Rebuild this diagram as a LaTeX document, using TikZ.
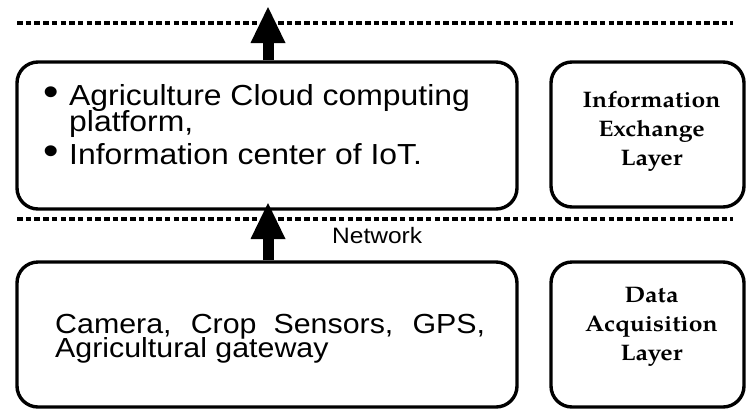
\documentclass[tikz,border=0pt]{standalone}
\usepackage{fontspec}
\setmainfont{Liberation Sans}
\newfontfamily\bodyfont{Liberation Sans}[FakeStretch=1.1]
\newfontfamily\layerfont{texgyrepagella-bold.otf}[FakeStretch=1.1]
\usetikzlibrary{arrows.meta}

\tikzset{
  box/.style={draw=black, line width=3.4pt, rounded corners=21pt,
    inner sep=0pt, minimum height=145pt},
  sepline/.style={line width=3.5pt, dash pattern=on 5.5pt off 3.2pt},
  flow/.style={line width=11pt,
    -{Triangle[width=35pt,length=36pt,line width=0pt]}},
  itemtext/.style={inner sep=0pt, anchor=base west,
    font={\bodyfont\fontsize{29}{26}\selectfont}},
  bullet/.style={inner sep=0pt, anchor=center,
    font={\bodyfont\fontsize{40}{40}\selectfont}},
  devtext/.style={inner sep=0pt, anchor=base west,
    font={\bodyfont\fontsize{27.6}{24}\selectfont}},
  nettext/.style={inner sep=0pt, anchor=base west,
    font={\bodyfont\fontsize{22.3}{26}\selectfont}},
  layertext/.style={inner sep=0pt, align=center,
    font={\layerfont\fontsize{22.5}{29}\selectfont}}
}

\begin{document}
\begin{tikzpicture}[x=1pt, y=-1pt]
  \useasboundingbox (0,0) rectangle (746,413);

  % layer separators
  \draw[sepline] (17,23) -- (733,23);
  \draw[sepline] (17,219) -- (733,219);

  % boxes
  \node[box, minimum width=500pt, minimum height=147pt] (cloud) at (267,135.5) {};
  \node[box, minimum width=193pt] (exch) at (647.5,134.5) {};
  \node[box, minimum width=500pt] (field) at (267,334.5) {};
  \node[box, minimum width=193pt] (acq) at (647.5,334.5) {};

  % upward data flow
  \coordinate (toptip) at (268,7);
  \coordinate (midtip) at (268,203);
  \draw[flow] (cloud.north -| toptip) -- (toptip);
  \draw[flow] (field.north -| midtip) -- (midtip);

  % cloud platform items
  \node[bullet] (bul1) at (51,96) {•};
  \node[itemtext] (item1) at (69,105) {Agriculture Cloud computing};
  \node[itemtext] (item1b) at (69,131) {platform,};
  \node[bullet] (bul2) at (51,155) {•};
  \node[itemtext] (item2) at (69,164) {Information center of IoT.};

  % field devices
  \node[devtext] (dev1) at (55,333) {\makebox[430pt][s]{Camera, Crop Sensors, GPS,}};
  \node[devtext] (dev2) at (55,357) {Agricultural gateway};

  \node[nettext] (net) at (332,243) {Network};

  % layer names
  \node[layertext] (exchlab) at (651.5,131) {Information\\Exchange\\Layer};
  \node[layertext] (acqlab) at (651.5,327) {Data\\Acquisition\\Layer};
\end{tikzpicture}
\end{document}
